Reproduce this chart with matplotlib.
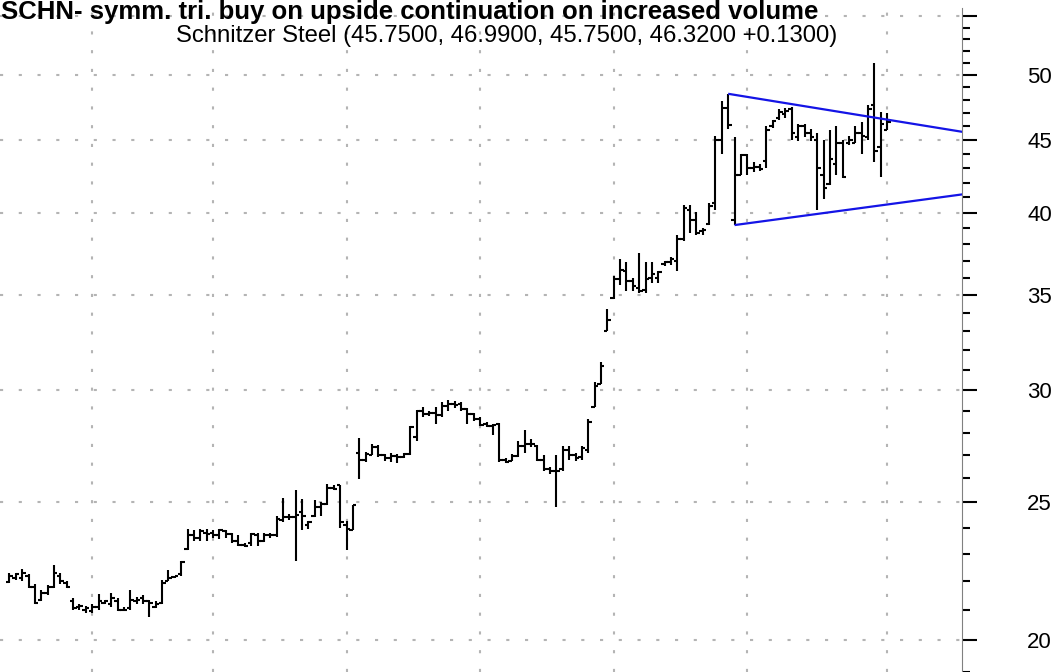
import matplotlib
matplotlib.use("Agg")
import matplotlib.pyplot as plt
from matplotlib.ticker import FixedLocator, NullFormatter
import numpy as np

plt.rcParams['font.family'] = ['Liberation Sans', 'DejaVu Sans']

title = "SCHN- symm. tri. buy on upside continuation on increased volume"
subtitle = "Schnitzer Steel (45.7500, 46.9900, 45.7500, 46.3200 +0.1300)"

opens = [21.97, 22.10, 22.10, 22.20, 21.80, 21.35, 21.60, 21.80, 22.20, 21.95,
         21.30, 21.10, 21.00, 20.95, 21.10, 21.25, 21.20, 21.30, 21.00, 21.05,
         21.30, 21.40, 21.30, 21.10, 21.25, 22.00, 22.15, 22.25, 23.20, 23.70,
         23.60, 23.80, 23.80, 23.70, 23.85, 23.75, 23.50, 23.35, 23.40, 23.70,
         23.50, 23.70, 23.70, 24.30, 24.40, 24.40, 24.60, 24.10, 24.45, 24.80,
         24.95, 25.60, 25.70, 24.10, 23.90, 27.10, 26.80, 27.00, 27.35, 27.00,
         26.85, 26.95, 26.90, 27.05, 27.80, 29.00, 28.85, 28.90, 28.80, 29.25,
         29.35, 29.35, 29.10, 28.85, 28.60, 28.40, 28.30, 28.40, 26.80, 26.75,
         26.95, 27.40, 27.50, 27.40, 26.80, 26.40, 26.30, 26.40, 27.20, 27.00,
         26.90, 27.20, 29.20, 30.30, 33.00, 34.80, 35.90, 36.40, 35.80, 35.40,
         35.30, 36.00, 36.00, 36.80, 36.90, 37.00, 38.30, 40.20, 39.50, 38.80,
         39.30, 40.60, 45.00, 47.40, 39.50, 42.50, 43.90, 43.00, 43.10, 43.50,
         46.00, 46.60, 46.90, 47.30, 45.20, 46.00, 45.50, 45.00, 42.50, 41.90,
         43.30, 44.80, 44.80, 44.80, 45.50, 45.20, 47.60, 44.50, 45.75]
highs = [22.30, 22.30, 22.45, 22.25, 21.90, 21.70, 21.85, 22.60, 22.30, 22.00,
         21.40, 21.20, 21.15, 21.20, 21.55, 21.35, 21.60, 21.40, 21.10, 21.70,
         21.45, 21.50, 21.35, 21.30, 22.05, 22.40, 22.20, 22.75, 23.96, 23.90,
         23.95, 23.95, 23.90, 23.95, 23.90, 23.80, 23.70, 23.40, 23.80, 23.80,
         23.80, 23.80, 24.45, 25.20, 24.55, 25.50, 25.15, 24.25, 25.10, 25.00,
         25.75, 25.70, 25.70, 24.25, 24.90, 27.75, 27.15, 27.50, 27.45, 27.05,
         27.10, 27.05, 27.10, 28.30, 29.05, 29.20, 29.00, 29.20, 29.40, 29.50,
         29.45, 29.40, 29.15, 28.90, 28.70, 28.50, 28.40, 28.45, 26.85, 27.05,
         27.60, 28.10, 27.70, 27.45, 27.00, 26.50, 27.00, 27.40, 27.40, 27.10,
         27.40, 28.60, 30.40, 31.40, 34.20, 36.10, 37.10, 36.90, 36.00, 37.45,
         36.90, 36.90, 36.40, 37.00, 37.20, 38.55, 40.50, 40.50, 40.05, 39.00,
         40.60, 45.30, 47.90, 48.50, 45.20, 44.00, 44.00, 43.40, 43.30, 46.00,
         46.50, 47.30, 47.40, 47.50, 46.20, 46.20, 45.80, 45.50, 45.00, 45.70,
         46.00, 45.00, 45.30, 46.00, 46.30, 47.60, 51.00, 47.10, 46.99]
lows = [21.95, 22.05, 22.00, 21.75, 21.20, 21.30, 21.50, 21.75, 21.90, 21.75,
        21.00, 21.00, 20.90, 20.90, 21.00, 21.20, 21.10, 20.95, 20.95, 21.00,
        21.20, 21.20, 20.75, 21.05, 21.20, 22.00, 22.10, 22.20, 23.15, 23.50,
        23.50, 23.50, 23.60, 23.55, 23.60, 23.40, 23.30, 23.25, 23.30, 23.30,
        23.45, 23.60, 23.65, 24.20, 24.30, 22.75, 23.90, 23.95, 24.40, 24.45,
        24.90, 25.50, 24.00, 23.15, 23.90, 25.95, 26.70, 27.00, 26.90, 26.75,
        26.70, 26.65, 26.85, 27.00, 27.60, 28.70, 28.75, 28.40, 28.70, 29.00,
        29.15, 29.00, 28.40, 28.55, 28.30, 28.25, 27.90, 26.70, 26.65, 26.75,
        26.90, 27.10, 27.35, 26.75, 26.30, 26.20, 24.80, 26.30, 26.80, 26.75,
        26.80, 27.10, 29.20, 30.30, 33.00, 34.75, 35.55, 35.25, 35.25, 35.10,
        35.10, 35.70, 35.70, 36.70, 36.75, 36.40, 38.20, 38.70, 38.60, 38.60,
        39.20, 40.20, 44.00, 45.80, 39.20, 42.50, 42.50, 42.70, 42.80, 43.00,
        45.90, 46.50, 46.60, 45.00, 44.90, 45.20, 44.90, 40.20, 40.90, 41.80,
        42.50, 42.30, 44.60, 44.80, 44.00, 45.00, 43.40, 42.40, 45.75]
closes = [22.20, 22.25, 22.30, 21.80, 21.25, 21.60, 21.80, 22.30, 22.00, 21.80,
          21.05, 21.15, 21.05, 21.10, 21.30, 21.30, 21.40, 21.00, 21.00, 21.35,
          21.35, 21.30, 21.25, 21.20, 21.95, 22.10, 22.20, 22.70, 23.70, 23.60,
          23.85, 23.75, 23.70, 23.90, 23.75, 23.50, 23.35, 23.30, 23.75, 23.50,
          23.70, 23.70, 24.35, 24.40, 24.40, 24.50, 24.45, 24.20, 24.80, 24.95,
          25.60, 25.55, 24.20, 23.95, 24.90, 26.80, 27.05, 27.35, 27.00, 26.85,
          26.95, 26.90, 27.05, 28.25, 29.00, 28.85, 28.90, 28.80, 29.25, 29.35,
          29.30, 29.10, 28.85, 28.60, 28.35, 28.30, 28.35, 26.80, 26.70, 26.95,
          27.40, 27.50, 27.50, 26.80, 26.40, 26.30, 26.30, 27.20, 27.00, 26.85,
          27.30, 28.50, 30.20, 31.20, 33.60, 35.90, 36.45, 35.80, 35.50, 35.20,
          35.90, 36.20, 36.30, 36.90, 37.10, 38.30, 40.30, 39.50, 38.70, 38.90,
          40.40, 45.00, 47.40, 46.10, 42.50, 43.90, 43.00, 43.10, 42.90, 45.70,
          46.40, 47.10, 47.20, 45.50, 46.00, 45.50, 45.20, 43.00, 41.60, 43.60,
          44.80, 42.40, 45.00, 45.50, 45.30, 47.30, 44.20, 46.19, 46.32]

month_starts = [13, 32, 53, 74, 95, 116, 138]
price_ticks = [20, 25, 30, 35, 40, 45, 50, 55]
price_labels = ['20', '25', '30', '35', '40', '45', '50', '']
minor_ticks = [v for v in range(19, 56) if v % 5 != 0]

upper_x = [113, 149.8]
upper_y = [48.5, 45.6]
lower_x = [114, 149.8]
lower_y = [39.2, 41.2]

W, H = 1061, 672
fig = plt.figure(figsize=(W / 100, H / 100), dpi=100)
ax = fig.add_axes([0, 0, 962 / W, 664 / H])
ax.set_yscale('log')
ax.set_ylim(18.99, 55.74)
ax.set_xlim(-1.49, 149.76)

grid_kw = dict(color='#b4b4b4', lw=1.5, linestyle=(0, (1.5, 7.5)), zorder=0)
for v in price_ticks:
    ax.axhline(v, **grid_kw)
for m in month_starts:
    ax.axvline(m, **grid_kw)

idx = np.arange(len(closes))
tw = 0.55
ax.vlines(idx, lows, highs, color='black', lw=1.5, zorder=3)
ax.hlines(opens, idx - tw, idx, color='black', lw=1.5, zorder=3)
ax.hlines(closes, idx, idx + tw, color='black', lw=1.5, zorder=3)

ax.plot(upper_x, upper_y, color='#1414e6', lw=1.6, zorder=4, solid_capstyle='butt')
ax.plot(lower_x, lower_y, color='#1414e6', lw=1.6, zorder=4, solid_capstyle='butt')

ax.yaxis.tick_right()
ax.yaxis.set_major_locator(FixedLocator(price_ticks))
ax.yaxis.set_minor_locator(FixedLocator(minor_ticks))
ax.yaxis.set_minor_formatter(NullFormatter())
ax.set_yticklabels(price_labels)
ax.tick_params(axis='y', which='major', length=10.8, width=1.5, pad=36,
               labelsize=16, colors='black', direction='out')
ax.tick_params(axis='y', which='minor', length=5.8, width=1.5, direction='out')
ax.tick_params(axis='x', which='both', bottom=False, labelbottom=False)
for s in ['top', 'left', 'bottom']:
    ax.spines[s].set_visible(False)
ax.spines['right'].set_color('#808080')
ax.spines['right'].set_linewidth(0.8)

fig.text(1 / W, 1 - 19 / H, title, fontsize=18.5, fontweight='bold',
         ha='left', va='baseline')
fig.text(507 / W, 1 - 42 / H, subtitle, fontsize=17.2, ha='center', va='baseline')

fig.savefig('out.png', dpi=100)
